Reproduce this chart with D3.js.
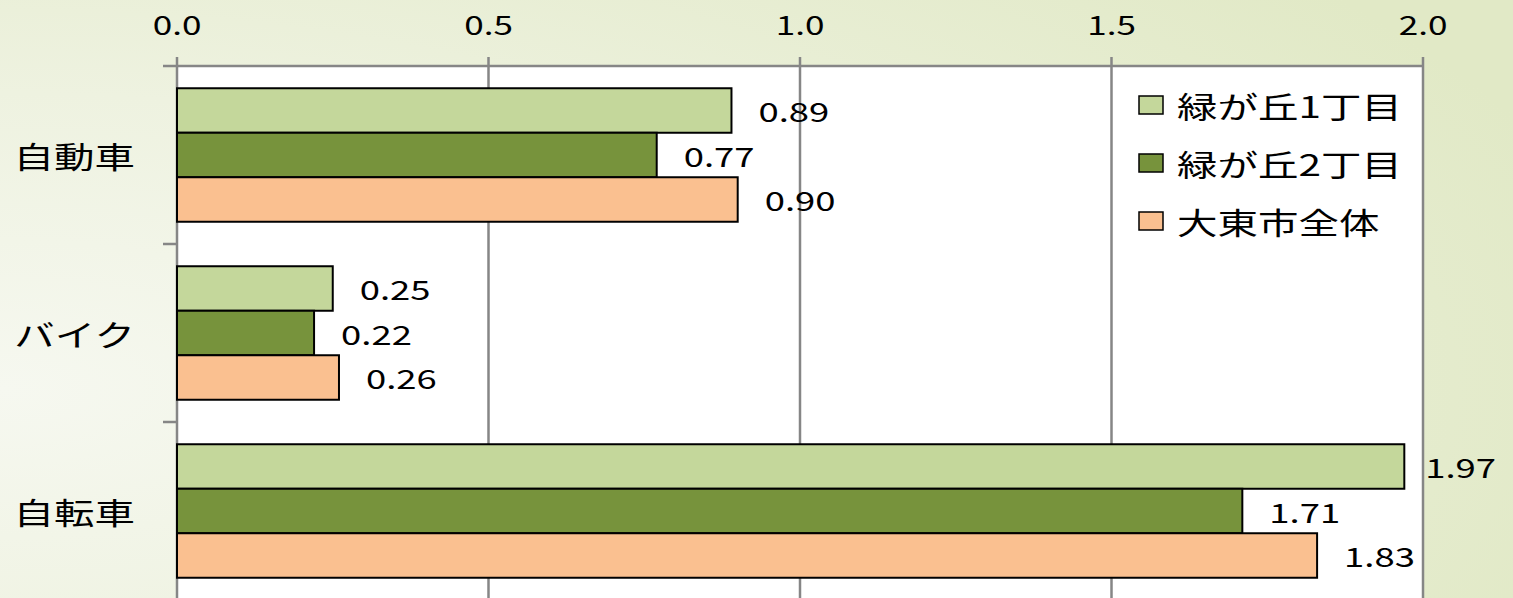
<!DOCTYPE html>
<html>
<head>
<meta charset="utf-8">
<script src="https://cdn.jsdelivr.net/npm/d3@7"></script>
<style>
  html, body { margin: 0; padding: 0; overflow: hidden; }
  svg { display: block; }
  text { font-family: "Noto Sans CJK JP", "Noto Sans", sans-serif; fill: #000; }
</style>
</head>
<body>
<svg class="d3-content"></svg>
<script>
//data
const categories = ["自動車", "バイク", "自転車"]
const seriesNames = ["緑が丘1丁目", "緑が丘2丁目", "大東市全体"]
const seriesColors = ["#C4D79B", "#77933C", "#FAC090"]
const midori1 = [0.89, 0.25, 1.97]
const midori2 = [0.77, 0.22, 1.71]
const daitoAll = [0.90, 0.26, 1.83]
const tickValues = [0, 0.5, 1.0, 1.5, 2.0]

const seriesValues = [midori1, midori2, daitoAll]

//dimensions
const w = 1513
const h = 598
const margin = { top: 66, right: 90, bottom: -2, left: 177 }
const sx = 1.35  // text in the picture is stretched sideways
const gray = "#868686"

const svg = d3.select('.d3-content')
    .attr('width', w)
    .attr('height', h)

//background
const defs = svg.append('defs')
const grad = defs.append('radialGradient')
    .attr('id', 'bg')
    .attr('cx', '0%').attr('cy', '65%').attr('r', '110%')
    .attr('gradientUnits', 'objectBoundingBox')
grad.append('stop').attr('offset', '0%').attr('stop-color', '#F6F8F0')
grad.append('stop').attr('offset', '45%').attr('stop-color', '#EEF2E0')
grad.append('stop').attr('offset', '100%').attr('stop-color', '#E1E9C6')
svg.append('rect').attr('width', w).attr('height', h).attr('fill', 'url(#bg)')

//scales
const xScale = d3.scaleLinear()
    .domain([0, 2])
    .range([margin.left, w - margin.right])
const yScale = d3.scaleBand()
    .domain(categories)
    .range([margin.top, h - margin.bottom])
    .paddingInner(0.25)
    .paddingOuter(0.125)
const ySub = d3.scaleBand()
    .domain(seriesNames)
    .range([0, yScale.bandwidth()])
const step = yScale.step()

//plot area
svg.append('rect')
    .attr('x', xScale(0))
    .attr('y', margin.top)
    .attr('width', xScale(2) - xScale(0))
    .attr('height', h - margin.top + 10)
    .attr('fill', '#fff')

//gridlines + top ticks
svg.append('g')
    .selectAll('line')
    .data(tickValues)
    .join('line')
    .attr('x1', d => xScale(d))
    .attr('x2', d => xScale(d))
    .attr('y1', margin.top - 9)
    .attr('y2', h + 5)
    .attr('stroke', gray)
    .attr('stroke-width', 2.5)

//top border
svg.append('line')
    .attr('x1', xScale(0)).attr('x2', xScale(2))
    .attr('y1', margin.top).attr('y2', margin.top)
    .attr('stroke', gray).attr('stroke-width', 2.5)

//left ticks at category boundaries
svg.append('g')
    .selectAll('line')
    .data(categories.concat(['end']))
    .join('line')
    .attr('x1', xScale(0) - 14)
    .attr('x2', xScale(0))
    .attr('y1', (d, i) => margin.top + i * step)
    .attr('y2', (d, i) => margin.top + i * step)
    .attr('stroke', gray)
    .attr('stroke-width', 2.5)

//bars
const barData = []
categories.forEach((c, ci) => {
    seriesNames.forEach((s, si) => {
        barData.push({ cat: c, series: s, si: si, value: seriesValues[si][ci] })
    })
})

svg.append('g')
    .selectAll('rect')
    .data(barData)
    .join('rect')
    .attr('x', xScale(0))
    .attr('y', d => yScale(d.cat) + ySub(d.series))
    .attr('width', d => xScale(d.value) - xScale(0))
    .attr('height', ySub.bandwidth())
    .attr('fill', d => seriesColors[d.si])
    .attr('stroke', '#000')
    .attr('stroke-width', 2)

//stretched text helper
function stretchedText(parent, x, y, str, size, anchor) {
    const g = parent.append('g')
        .attr('transform', `translate(${x},${y}) scale(${sx},1)`)
    return g.append('text')
        .attr('text-anchor', anchor)
        .attr('dominant-baseline', 'central')
        .style('font-size', size + 'px')
        .text(str)
}

//value labels
const labels = svg.append('g')
barData.forEach(d => {
    const y = yScale(d.cat) + ySub(d.series) + ySub.bandwidth() / 2
    const t = stretchedText(labels, 0, y, d.value.toFixed(2), 27, 'start')
    const tw = t.node().getComputedTextLength() * sx
    const x = Math.min(xScale(d.value) + 27, w - 17 - tw)
    t.node().parentNode.setAttribute('transform', `translate(${x},${y}) scale(${sx},1)`)
})

//top axis labels
const axisLabels = svg.append('g')
tickValues.forEach(v => {
    stretchedText(axisLabels, xScale(v), 24, d3.format('.1f')(v), 26, 'middle')
})

//category labels
const catLabels = svg.append('g')
categories.forEach(c => {
    stretchedText(catLabels, 135, yScale(c) + yScale.bandwidth() / 2, c, 30, 'end')
})

//legend
const legend = svg.append('g')
seriesNames.forEach((s, i) => {
    const y = 105 + i * 58
    legend.append('rect')
        .attr('x', 1139)
        .attr('y', y - 9)
        .attr('width', 24)
        .attr('height', 18)
        .attr('fill', seriesColors[i])
        .attr('stroke', '#000')
        .attr('stroke-width', 1.5)
    stretchedText(legend, 1177, y, s, 30, 'start')
})
</script>
</body>
</html>
